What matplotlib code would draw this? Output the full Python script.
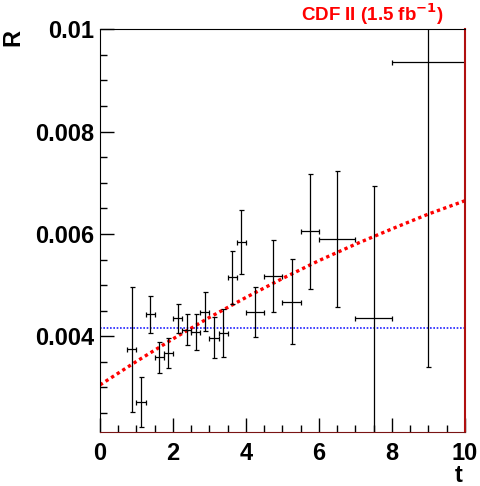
import numpy as np
import matplotlib.pyplot as plt
from matplotlib.ticker import FixedLocator, FixedFormatter, MultipleLocator

plt.rcParams['font.family'] = ['Liberation Sans', 'DejaVu Sans']

# bins (lower / upper edge) and measured R with its error
t_lo = [0.75, 1.0, 1.25, 1.5, 1.75, 2.0, 2.25, 2.5, 2.75, 3.0, 3.25, 3.5, 3.75,
        4.0, 4.5, 5.0, 5.5, 6.0, 7.0, 8.0]
t_hi = [1.0, 1.25, 1.5, 1.75, 2.0, 2.25, 2.5, 2.75, 3.0, 3.25, 3.5, 3.75, 4.0,
        4.5, 5.0, 5.5, 6.0, 7.0, 8.0, 10.0]
R = [0.00375, 0.00271, 0.00443, 0.00359, 0.00367, 0.00435, 0.00413, 0.00408,
     0.00448, 0.00397, 0.00407, 0.00515, 0.00584, 0.00447, 0.00518, 0.00468,
     0.00605, 0.00590, 0.00435, 0.00937]
R_err = [0.00122, 0.00049, 0.00036, 0.00030, 0.00029, 0.00029, 0.00030, 0.00035,
         0.00038, 0.00040, 0.00047, 0.00051, 0.00062, 0.00049, 0.00070, 0.00083,
         0.00113, 0.00133, 0.00258, 0.00596]

# mixing fit (red) read off the picture, and the no-mixing constant (blue)
fit_t = [0, 1, 2, 3, 4, 5, 6, 7, 8, 9, 10]
fit_R = [0.00305, 0.00351, 0.00395, 0.00437, 0.00476, 0.00513, 0.00548,
         0.00580, 0.00610, 0.00639, 0.00665]
flat_R = 0.00416

t_lo = np.array(t_lo)
t_hi = np.array(t_hi)
t_c = (t_lo + t_hi) / 2
t_w = (t_hi - t_lo) / 2

fig = plt.figure(figsize=(4.8, 4.86), dpi=100)
ax = fig.add_axes([0.2083, 0.1111, 0.7604, 0.8286])

ax.plot([0, 10], [flat_R, flat_R], color='#2020ff', lw=1.2,
        linestyle=(0, (1, 1)), dash_capstyle='butt')
ax.plot(fit_t, fit_R, color='#ff0000', lw=2.4,
        linestyle=(0, (1, 1)), dash_capstyle='butt')
ax.errorbar(t_c, R, xerr=t_w, yerr=R_err, fmt='none', ecolor='black',
            elinewidth=0.9, capsize=1.8, capthick=0.9)

ax.set_xlim(0, 10)
ax.set_ylim(0.00213, 0.01)

ax.xaxis.set_major_locator(MultipleLocator(2))
ax.xaxis.set_minor_locator(MultipleLocator(0.5))
ax.yaxis.set_major_locator(FixedLocator([0.004, 0.006, 0.008, 0.01]))
ax.yaxis.set_major_formatter(FixedFormatter(['0.004', '0.006', '0.008', '0.01']))
ax.yaxis.set_minor_locator(MultipleLocator(0.0005))

ax.tick_params(which='both', direction='in', top=False, right=False, width=1)
ax.tick_params(which='major', length=10)
ax.tick_params(which='minor', length=5)
ax.tick_params(axis='y', which='major', pad=4, labelsize=17)
ax.tick_params(axis='x', which='major', pad=7, labelsize=17)
for lab in ax.get_xticklabels() + ax.get_yticklabels():
    lab.set_fontweight('bold')

ax.spines['bottom'].set_color('#7a1515')
ax.spines['right'].set_color('#b01010')
ax.spines['right'].set_linewidth(1.5)

fig.text(0.027, 0.922, 'R', rotation=90, fontsize=17, fontweight='bold',
         ha='center', va='center')
fig.text(0.956, 0.008, 't', fontsize=17, fontweight='bold',
         ha='center', va='baseline')
fig.text(0.775, 0.971, r'CDF II (1.5 fb$^{\mathbf{-1}}$)', color='#ff0000',
         fontsize=13.5, fontweight='bold', ha='center', va='center')

fig.savefig('out.png', dpi=100)
